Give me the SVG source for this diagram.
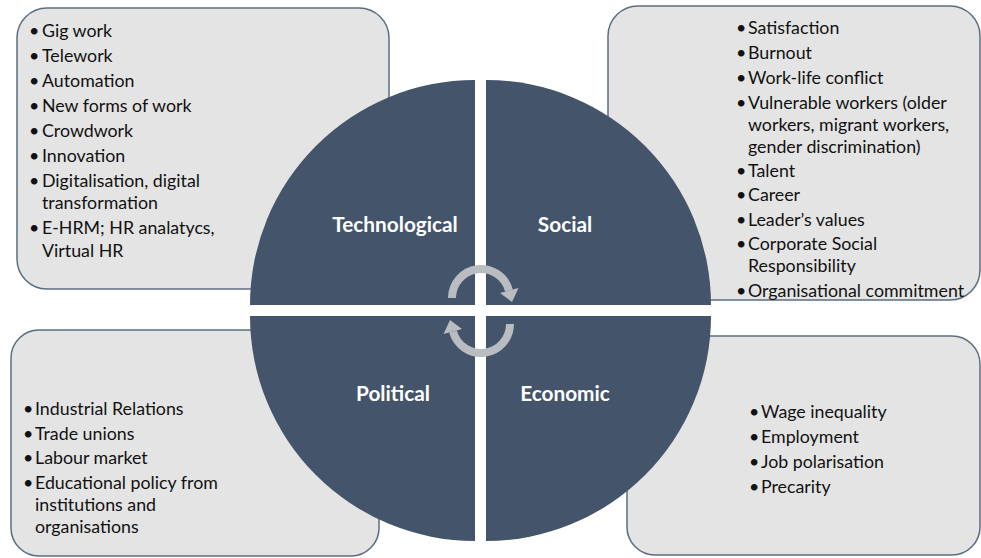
<svg xmlns="http://www.w3.org/2000/svg" width="981" height="558" viewBox="0 0 981 558">
<style>
.box{fill:#e4e4e4;stroke:#5b6d82;stroke-width:1.5}
.q{fill:#44546a}
.t{font-family:Lato,"Liberation Sans",sans-serif;font-size:17.8px;fill:#111}
.lbl{font-family:Lato,"Liberation Sans",sans-serif;font-size:20.8px;font-weight:bold;fill:#fff;text-anchor:middle}
.arr{fill:none;stroke:#b9bdc2;stroke-width:8}
.ah{fill:#b9bdc2}
</style>
<g id="box-tech"><rect class="box" x="17" y="8" width="372" height="281" rx="30"/>
<text class="t"><tspan x="29" y="37">•</tspan><tspan x="42" y="37">Gig work</tspan><tspan x="29" y="62">•</tspan><tspan x="42" y="62">Telework</tspan><tspan x="29" y="87">•</tspan><tspan x="42" y="87">Automation</tspan><tspan x="29" y="112">•</tspan><tspan x="42" y="112">New forms of work</tspan><tspan x="29" y="137">•</tspan><tspan x="42" y="137">Crowdwork</tspan><tspan x="29" y="162">•</tspan><tspan x="42" y="162">Innovation</tspan><tspan x="29" y="187">•</tspan><tspan x="42" y="187">Digitalisation, digital</tspan><tspan x="42" y="209">transformation</tspan><tspan x="29" y="234">•</tspan><tspan x="42" y="234">E-HRM; HR analatycs,</tspan><tspan x="42" y="257">Virtual HR</tspan></text></g>
<g id="box-social"><rect class="box" x="608" y="6" width="372" height="294" rx="30"/>
<text class="t"><tspan x="736" y="34">•</tspan><tspan x="748" y="34">Satisfaction</tspan><tspan x="736" y="59">•</tspan><tspan x="748" y="59">Burnout</tspan><tspan x="736" y="84">•</tspan><tspan x="748" y="84">Work-life conflict</tspan><tspan x="736" y="109">•</tspan><tspan x="748" y="109">Vulnerable workers (older</tspan><tspan x="748" y="131">workers, migrant workers,</tspan><tspan x="748" y="153">gender discrimination)</tspan><tspan x="736" y="177">•</tspan><tspan x="748" y="177">Talent</tspan><tspan x="736" y="201">•</tspan><tspan x="748" y="201">Career</tspan><tspan x="736" y="226">•</tspan><tspan x="748" y="226">Leader’s values</tspan><tspan x="736" y="250">•</tspan><tspan x="748" y="250">Corporate Social</tspan><tspan x="748" y="272">Responsibility</tspan><tspan x="736" y="297">•</tspan><tspan x="748" y="297">Organisational commitment</tspan></text></g>
<g id="box-political"><rect class="box" x="11" y="330" width="368" height="226" rx="28"/>
<text class="t"><tspan x="23" y="415">•</tspan><tspan x="35" y="415">Industrial Relations</tspan><tspan x="23" y="440">•</tspan><tspan x="35" y="440">Trade unions</tspan><tspan x="23" y="464">•</tspan><tspan x="35" y="464">Labour market</tspan><tspan x="23" y="489">•</tspan><tspan x="35" y="489">Educational policy from</tspan><tspan x="35" y="511">institutions and</tspan><tspan x="35" y="533">organisations</tspan></text></g>
<g id="box-economic"><rect class="box" x="627" y="336" width="353" height="219" rx="28"/>
<text class="t"><tspan x="749" y="418">•</tspan><tspan x="761" y="418">Wage inequality</tspan><tspan x="749" y="443">•</tspan><tspan x="761" y="443">Employment</tspan><tspan x="749" y="468">•</tspan><tspan x="761" y="468">Job polarisation</tspan><tspan x="749" y="493">•</tspan><tspan x="761" y="493">Precarity</tspan></text></g>
<g id="q-technological"><path class="q" d="M475,305 L250,305 A225,225 0 0 1 475,80 Z"/><text class="lbl" x="395" y="232">Technological</text></g>
<g id="q-social"><path class="q" d="M486,305 L486,80 A225,225 0 0 1 711,305 Z"/><text class="lbl" x="565" y="232">Social</text></g>
<g id="q-political"><path class="q" d="M475,316 L475,541 A225,225 0 0 1 250,316 Z"/><text class="lbl" x="393" y="401">Political</text></g>
<g id="q-economic"><path class="q" d="M486,316 L711,316 A225,225 0 0 1 486,541 Z"/><text class="lbl" x="565" y="401">Economic</text></g>
<g id="connectors">
<g id="arrow-top"><path class="arr" d="M452,298 A29,29 0 0 1 509,290.5"/><polygon class="ah" points="518.5,288 500,293 512,302"/></g>
<g id="arrow-bottom" transform="rotate(180 481 311)"><path class="arr" d="M452,298 A29,29 0 0 1 509,290.5"/><polygon class="ah" points="518.5,288 500,293 512,302"/></g>
</g>
</svg>
